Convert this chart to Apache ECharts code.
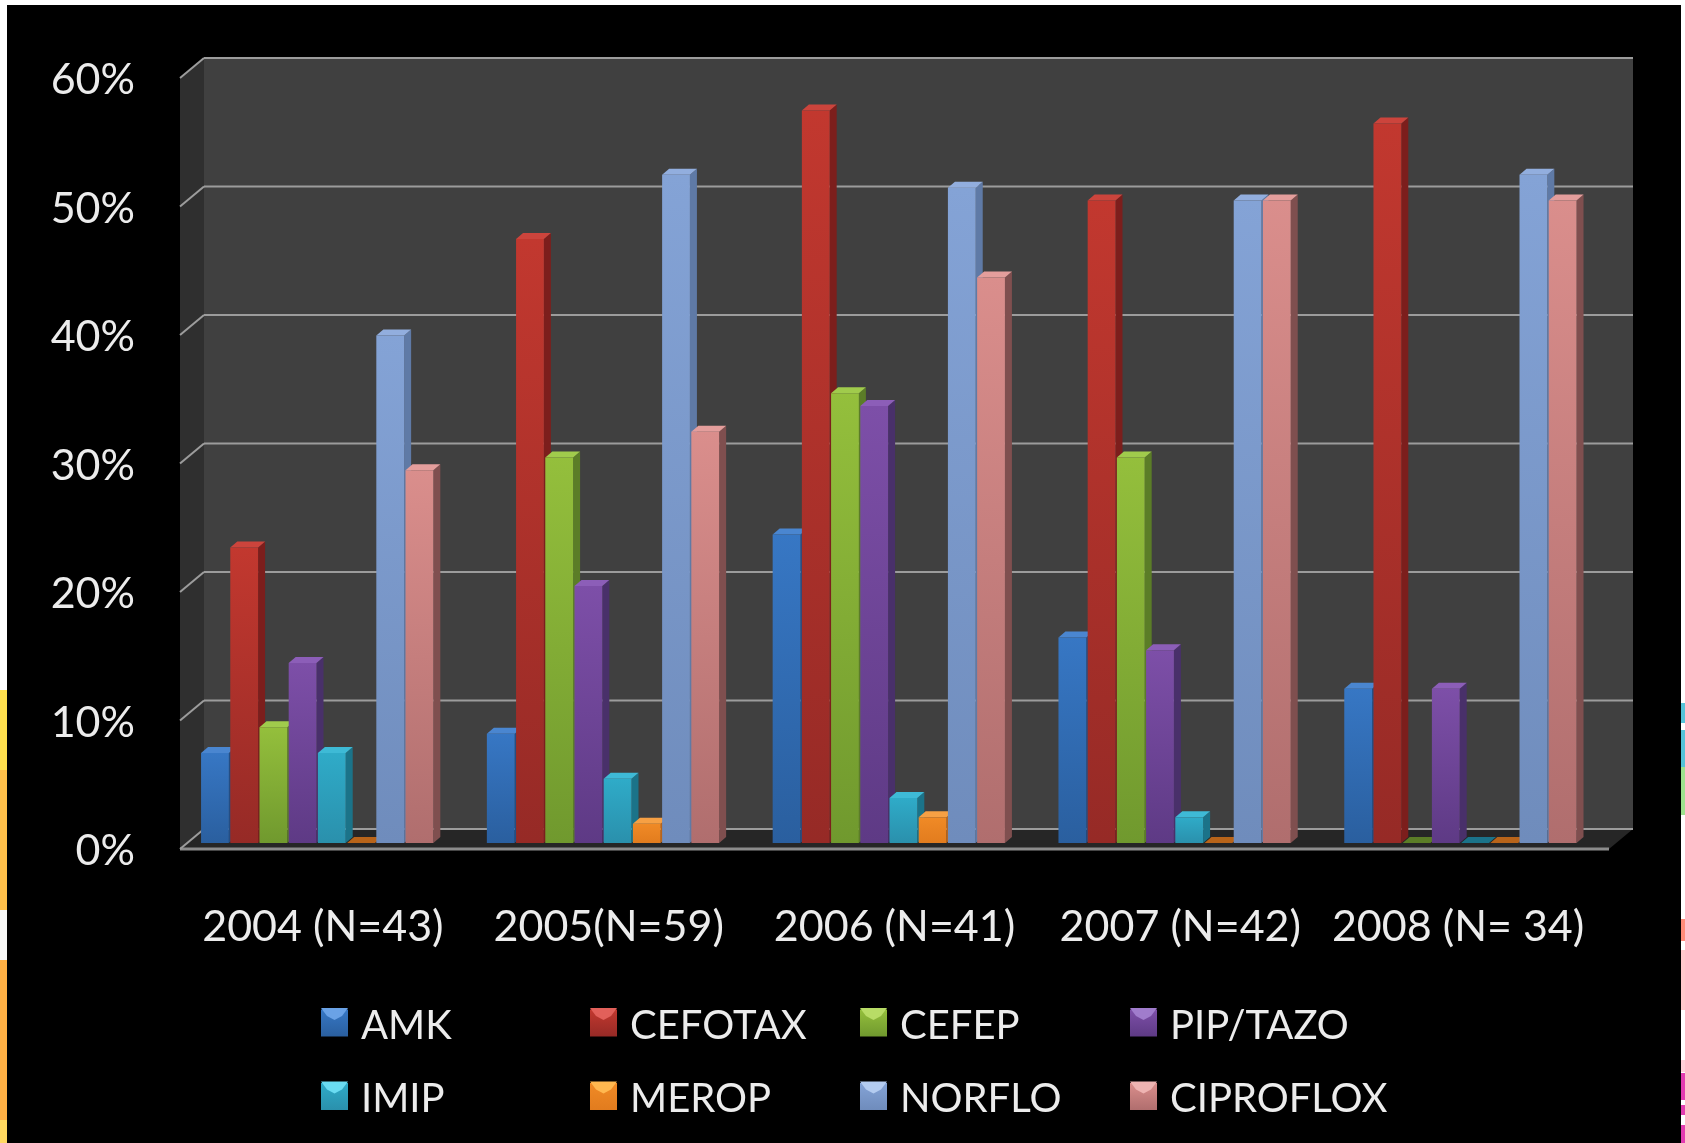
<!DOCTYPE html>
<html>
<head>
<meta charset="utf-8">
<style>html,body{margin:0;padding:0;background:#fff}#chart{width:1685px;height:1143px}</style>
<script src="https://cdn.jsdelivr.net/npm/echarts@6/dist/echarts.min.js"></script>
</head>
<body>
<div id="chart"></div>
<script>
// Resistance rates per antibiotic and year, in percent
const categories = ['2004 (N=43)', '2005(N=59)', '2006 (N=41)', '2007 (N=42)', '2008 (N= 34)'];
const yTicks = [0, 10, 20, 30, 40, 50, 60];
const AMK = [7, 8.5, 24, 16, 12];
const CEFOTAX = [23, 47, 57, 50, 56];
const CEFEP = [9, 30, 35, 30, 0];
const PIP_TAZO = [14, 20, 34, 15, 12];
const IMIP = [7, 5, 3.5, 2, 0];
const MEROP = [0, 1.5, 2, 0, 0];
const NORFLO = [39.5, 52, 51, 50, 52];
const CIPROFLOX = [29, 32, 44, 50, 50];
const seriesNames = ['AMK', 'CEFOTAX', 'CEFEP', 'PIP/TAZO', 'IMIP', 'MEROP', 'NORFLO', 'CIPROFLOX'];
const seriesValues = [AMK, CEFOTAX, CEFEP, PIP_TAZO, IMIP, MEROP, NORFLO, CIPROFLOX];

// Shades per series: top cap, face upper, face lower, side, legend highlight
const palette = [
  ['#4a86d0', '#3777c4', '#2a5f9f', '#234e85', '#6aa2e6'],
  ['#cc443c', '#c2382f', '#962a26', '#7c1e1c', '#e2605a'],
  ['#a0cb4c', '#94bf3c', '#70992e', '#5b7d27', '#b8dc66'],
  ['#8c5eb8', '#7d4fa8', '#5e3a85', '#49306a', '#a07ccc'],
  ['#3ebad6', '#2fabc8', '#2a90ac', '#1b7389', '#6adcf2'],
  ['#f6a044', '#f08a26', '#e27c1e', '#b8641a', '#ffb850'],
  ['#92aede', '#84a3d6', '#6f8cbc', '#5f7aa6', '#b4ccf0'],
  ['#e49e9c', '#da8e8c', '#b06e6e', '#7f4f4f', '#eeb4b2']
];

// Box depth and wall offsets
const wallDx = 24, wallDy = -20;
const barDx = 7, barDy = -6, barLift = 6, barShift = -5;
const lineColor = '#9c9c9c';

function gradient(top, bottom) {
  return new echarts.graphic.LinearGradient(0, 0, 0, 1, [
    { offset: 0, color: top }, { offset: 1, color: bottom }
  ]);
}

// Walls, floor and grid lines of the box around the bars
function renderFrame(params, api) {
  const v = api.value(1);
  const sys = params.coordSys;
  const y = api.coord([0, v])[1];
  const xl = sys.x, xr = sys.x + sys.width;
  const children = [];
  if (v === 0) {
    const yTop = sys.y;
    children.push(
      { type: 'rect', shape: { x: xl + wallDx, y: yTop + wallDy, width: sys.width, height: sys.height },
        style: { fill: '#404040' } },
      { type: 'polygon', shape: { points: [[xl, yTop], [xl + wallDx, yTop + wallDy], [xl + wallDx, y + wallDy], [xl, y]] },
        style: { fill: '#2f2f2f' } },
      { type: 'polygon', shape: { points: [[xl, y], [xl + wallDx, y + wallDy], [xr + wallDx, y + wallDy], [xr, y]] },
        style: { fill: '#262626' } },
      { type: 'line', shape: { x1: xl, y1: y, x2: xr, y2: y },
        style: { stroke: '#8c8c8c', lineWidth: 3 } }
    );
  }
  children.push(
    { type: 'line', shape: { x1: xl, y1: y, x2: xl + wallDx, y2: y + wallDy },
      style: { stroke: lineColor, lineWidth: 2 } },
    { type: 'line', shape: { x1: xl + wallDx, y1: y + wallDy, x2: xr + wallDx, y2: y + wallDy },
      style: { stroke: lineColor, lineWidth: 2 } }
  );
  return { type: 'group', children };
}

// One 3D bar: front face, right side and top cap
function makeBarRenderer(index) {
  const shade = palette[index];
  return function (params, api) {
    const cat = api.value(0);
    const value = api.value(1);
    const base = api.coord([cat, 0]);
    const top = api.coord([cat, value]);
    const step = api.size([1, 0])[0] * 0.1022;
    const w = step - 1.4;
    const x = base[0] + barShift + (index - 4) * step;
    const yb = base[1] - barLift;
    const yt = top[1] - barLift;
    const children = [];
    children.push({
      type: 'polygon',
      shape: { points: [[x + w, yt], [x + w + barDx, yt + barDy], [x + w + barDx, yb + barDy], [x + w, yb]] },
      style: { fill: shade[3] }
    });
    children.push({
      type: 'polygon',
      shape: { points: [[x, yt], [x + w, yt], [x + w + barDx, yt + barDy], [x + barDx, yt + barDy]] },
      style: { fill: value === 0 ? shade[3] : shade[0] }
    });
    if (yb - yt > 0.5) {
      children.push({
        type: 'rect',
        shape: { x, y: yt, width: w, height: yb - yt },
        style: { fill: gradient(shade[1], shade[2]) }
      });
    }
    return { type: 'group', children };
  };
}

const barSeries = seriesNames.map((name, i) => ({
  name,
  type: 'custom',
  z: 3 + i,
  renderItem: makeBarRenderer(i),
  itemStyle: { color: palette[i][1] },
  encode: { x: 0, y: 1 },
  data: seriesValues[i].map((v, c) => [c, v])
}));

const frameSeries = {
  name: 'frame',
  type: 'custom',
  z: 2,
  silent: true,
  renderItem: renderFrame,
  encode: { x: 0, y: 1 },
  data: yTicks.map(t => [0, t])
};

// Legend: four columns of two rows
const legendLeft = [321, 590, 860, 1130];
const legendRowTop = 1006, legendRowGap = 33.5;
const textColor = '#ececec';
const legendFont = { fontFamily: 'Lato', fontSize: 40, color: textColor };
const legends = legendLeft.map((left, col) => ({
  orient: 'vertical',
  left,
  top: legendRowTop,
  padding: 0,
  itemWidth: 27,
  itemHeight: 27,
  itemGap: legendRowGap,
  formatter: name => '{t|' + name + '}',
  textStyle: { ...legendFont, rich: { t: { ...legendFont, padding: [6, 0, 0, 8] } } },
  selectedMode: false,
  data: [col, col + 4].map(i => ({
    name: seriesNames[i],
    icon: 'rect',
    itemStyle: { color: gradient(palette[i][1], palette[i][2]) }
  }))
}));

// Lighter bevel on top of each legend swatch
const swatchTops = [1008, 1081.5];
const swatchBevels = [];
legendLeft.forEach((left, col) => {
  swatchTops.forEach((y, row) => {
    swatchBevels.push({
      type: 'polygon',
      z: 20,
      shape: { points: [[left, y], [left + 27, y], [left + 21, y + 8], [left + 13.5, y + 12], [left + 6, y + 8]] },
      style: { fill: palette[col + row * 4][4] }
    });
  });
});

// Slide background peeking out along the left and right edges
const edgeBands = [
  [0, 690, 7, 80, '#ffe04e'], [0, 770, 7, 140, '#ffc04a'], [0, 910, 7, 50, '#f8f8f6'],
  [0, 960, 7, 160, '#ffb044'], [0, 1120, 7, 23, '#ffd860'],
  [1681, 703, 4, 20, '#55c3d8'], [1681, 730, 4, 37, '#55c3d8'], [1681, 767, 4, 48, '#9ee28e'],
  [1681, 919, 4, 22, '#ff8c7a'], [1681, 950, 4, 60, '#ffc8cc'], [1681, 1060, 4, 12, '#ffd0d8'],
  [1681, 1073, 4, 27, '#e23cb0'], [1681, 1105, 4, 10, '#e23cb0'], [1681, 1125, 4, 18, '#e23cb0']
];

const axisFont = { fontFamily: 'Lato', fontSize: 43, color: textColor };
const lastCategory = categories[categories.length - 1];

const chart = echarts.init(document.getElementById('chart'), null, { renderer: 'canvas' });
chart.setOption({
  animation: false,
  backgroundColor: '#ffffff',
  graphic: {
    elements: [
      { type: 'rect', z: -10, shape: { x: 7, y: 5, width: 1674, height: 1138 }, style: { fill: '#000000' } },
      ...edgeBands.map(b => ({
        type: 'rect', z: -9, shape: { x: b[0], y: b[1], width: b[2], height: b[3] }, style: { fill: b[4] }
      })),
      ...swatchBevels
    ]
  },
  grid: { left: 180, top: 78, width: 1429, height: 771, containLabel: false },
  legend: legends,
  xAxis: {
    type: 'category',
    data: categories,
    axisLine: { show: false },
    axisTick: { show: false },
    axisLabel: {
      ...axisFont,
      margin: 57,
      interval: 0,
      // The last label sits a little left of its band
      formatter: v => (v === lastCategory ? '{shifted|' + v + '}' : v),
      rich: { shifted: { ...axisFont, padding: [0, 16, 0, 0] } }
    }
  },
  yAxis: {
    type: 'value',
    min: 0,
    max: 60,
    interval: 10,
    splitLine: { show: false },
    axisLine: { show: false },
    axisTick: { show: false },
    axisLabel: {
      ...axisFont,
      margin: 45,
      formatter: v => '{t|' + v + '%}',
      rich: { t: { ...axisFont, padding: [5, 0, 0, 0] } }
    }
  },
  series: [frameSeries, ...barSeries]
});
</script>
</body>
</html>
